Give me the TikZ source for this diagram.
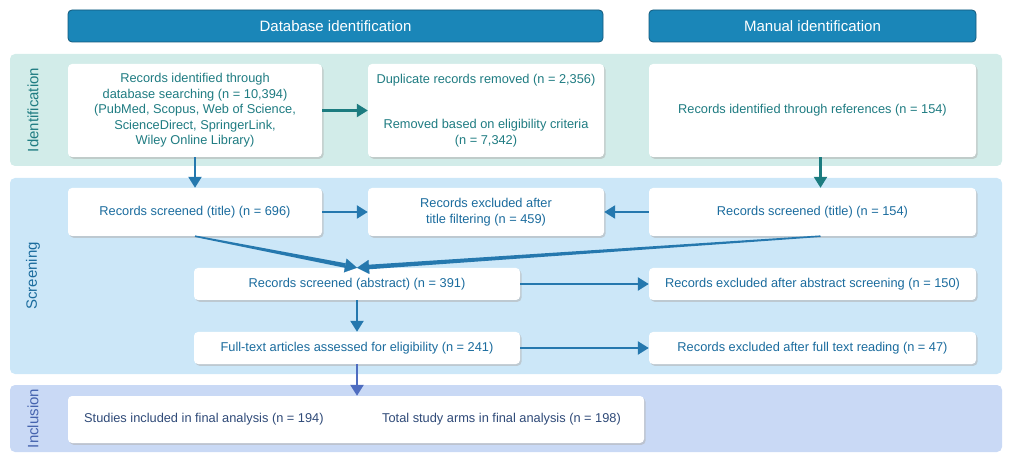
\documentclass[tikz,border=0pt]{standalone}
\usepackage{fontspec}
\setmainfont{Liberation Sans}
\usetikzlibrary{arrows.meta,shadows,calc}
\definecolor{hdrfill}{HTML}{1A86B8}
\definecolor{hdrdraw}{HTML}{12587A}
\definecolor{idband}{HTML}{D2ECE9}
\definecolor{scband}{HTML}{CCE7F8}
\definecolor{inband}{HTML}{C9D9F5}
\definecolor{tealtx}{HTML}{1F7C82}
\definecolor{bluetx}{HTML}{1B6C9E}
\definecolor{inctx}{HTML}{2F4A78}
\definecolor{inclab}{HTML}{4563AE}
\definecolor{tealar}{HTML}{1C7C80}
\definecolor{bluear}{HTML}{2578AE}
\definecolor{indar}{HTML}{4F6DC0}
\tikzset{
  hdr/.style={draw=hdrdraw, line width=0.8pt, fill=hdrfill, rounded corners=4pt, text=white,
    font=\fontsize{15}{17}\selectfont, inner sep=0pt},
  band/.style={rounded corners=5pt, inner sep=0pt},
  bandlab/.style={rotate=90, font=\fontsize{15}{17}\selectfont},
  wbox/.style={fill=white, rounded corners=4pt, inner sep=2pt, align=center,
    font=\fontsize{12.8}{15.5}\selectfont,
    drop shadow={shadow xshift=1.5pt, shadow yshift=-1.8pt, fill=black!30, opacity=0.55}},
  idbox/.style={wbox, text=tealtx},
  scbox/.style={wbox, text=bluetx},
  arr/.style={line width=2.4pt, -{Triangle[length=11pt, width=13pt]}},
  tiponly/.style={line width=0.1pt, -{Triangle[length=12pt, width=14pt]}},
}
\newcommand\mytaper[3]{%
  \coordinate (tpE) at ($(#2)!12pt!(#1)$);
  \fill[#3] ($(#1)!0.8pt!90:(#2)$) -- ($(tpE)!2.3pt!-90:(#1)$) -- ($(tpE)!2.3pt!90:(#1)$) -- ($(#1)!0.8pt!-90:(#2)$) -- cycle;
  \draw[#3, tiponly] (tpE) -- (#2);
}
\begin{document}
\begin{tikzpicture}[x=1pt, y=-1pt]
\useasboundingbox (0,0) rectangle (1013,465);
% headers
\node[hdr, minimum width=535pt, minimum height=32pt] (h1) at (335.5,26) {Database identification};
\node[hdr, minimum width=327pt, minimum height=32pt] (h2) at (812.5,26) {Manual identification};
% bands
\node[band, fill=idband, minimum width=992pt, minimum height=112pt] (bid) at (506,110) {};
\node[band, fill=scband, minimum width=992pt, minimum height=196pt] (bsc) at (506,276) {};
\node[band, fill=inband, minimum width=992pt, minimum height=67pt] (bin) at (506,418.5) {};
\node[bandlab, text=tealtx] (lid) at (33,110) {Identification};
\node[bandlab, text=bluetx] (lsc) at (33,276) {Screening};
\node[bandlab, text=inclab] (lin) at (33,418.5) {Inclusion};
% identification boxes
\node[idbox, minimum width=254pt, minimum height=93pt] (A) at (195,110.5)
  {Records identified through\\database searching (n = 10,394)\\(PubMed, Scopus, Web of Science,\\ScienceDirect, SpringerLink,\\Wiley Online Library)};
\node[idbox, minimum width=236pt, minimum height=93pt, align=center] (B) at (486,110.5)
  {Duplicate records removed (n = 2,356)\\[30pt]Removed based on eligibility criteria\\(n = 7,342)};
\node[idbox, minimum width=327pt, minimum height=93pt] (C) at (812.5,110.5)
  {Records identified through references (n = 154)};
% screening boxes
\node[scbox, minimum width=254pt, minimum height=48pt] (D) at (195,212) {Records screened (title) (n = 696)};
\node[scbox, minimum width=236pt, minimum height=48pt] (E) at (486,212) {Records excluded after\\title filtering (n = 459)};
\node[scbox, minimum width=327pt, minimum height=48pt] (F) at (812.5,212) {Records screened (title) (n = 154)};
\node[scbox, minimum width=326pt, minimum height=32pt] (G) at (357,284) {Records screened (abstract) (n = 391)};
\node[scbox, minimum width=327pt, minimum height=32pt] (H) at (812.5,284) {Records excluded after abstract screening (n = 150)};
\node[scbox, minimum width=326pt, minimum height=32pt] (I) at (357,348) {Full-text articles assessed for eligibility (n = 241)};
\node[scbox, minimum width=327pt, minimum height=32pt] (J) at (812.5,348) {Records excluded after full text reading (n = 47)};
% inclusion box
\node[wbox, minimum width=576pt, minimum height=47pt] (K) at (356,419.5) {};
\node[text=inctx, font=\fontsize{12.8}{15}\selectfont, anchor=west, inner sep=0pt] (k1) at (84,419.5) {Studies included in final analysis (n = 194)};
\node[text=inctx, font=\fontsize{12.8}{15}\selectfont, anchor=west, inner sep=0pt] (k2) at (382,419.5) {Total study arms in final analysis (n = 198)};
% arrows
\draw[arr, tealar] (A.east) -- (B.west);
\draw[arr, bluear] (A.south) -- (D.north);
\draw[arr, tealar] ([xshift=8pt]C.south) -- ([xshift=8pt]F.north);
\draw[arr, bluear] (D.east) -- (E.west);
\draw[arr, bluear] (F.west) -- (E.east);
\coordinate (Fs) at ([xshift=8pt]F.south);
\mytaper{D.south}{G.north}{bluear}
\mytaper{Fs}{G.north}{bluear}
\draw[arr, bluear] (G.east) -- (H.west);
\draw[arr, bluear] (G.south) -- (I.north);
\draw[arr, bluear] (I.east) -- (J.west);
\draw[arr, indar] (I.south) -- (I.south |- K.north);
\end{tikzpicture}
\end{document}
